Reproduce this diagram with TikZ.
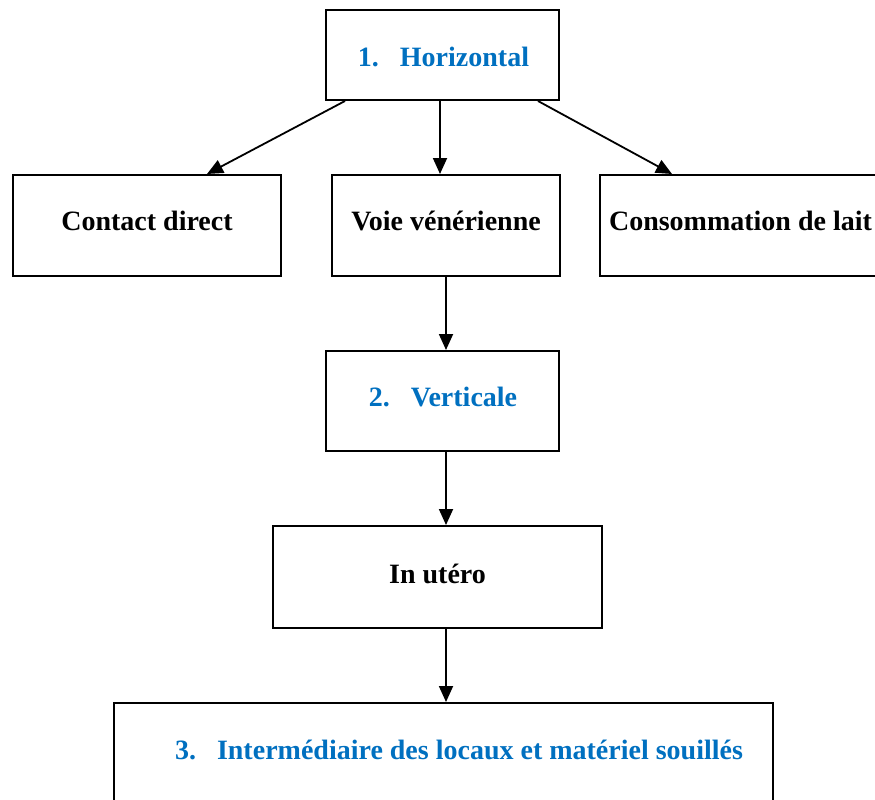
\documentclass[tikz,border=0pt]{standalone}
\usepackage{fontspec}
\setmainfont{Liberation Serif}
\usetikzlibrary{arrows.meta}
\definecolor{wordblue}{RGB}{0,112,192}
\tikzset{
  box/.style={draw=black, line width=2pt, rectangle, inner sep=0pt},
  lbl/.style={inner sep=0pt, font=\fontsize{28}{32}\selectfont\bfseries},
  bluelbl/.style={lbl, text=wordblue},
  arr/.style={line width=1.8pt, -{Triangle[length=16pt,width=14pt]}}
}
\begin{document}
\begin{tikzpicture}[x=1pt,y=-1pt]
\useasboundingbox (0,0) rectangle (875,800);
\clip (0,0) rectangle (875,800);
\fill[white] (0,0) rectangle (875,800);
\node[box, minimum width=233pt, minimum height=90pt] (h) at (442.5,55) {};
\node[box, minimum width=268pt, minimum height=101pt] (cd) at (147,225.5) {};
\node[box, minimum width=228pt, minimum height=101pt] (vv) at (446,225.5) {};
\node[box, minimum width=281pt, minimum height=101pt] (cl) at (740.5,225.5) {};
\node[box, minimum width=233pt, minimum height=100pt] (ve) at (442.5,401) {};
\node[box, minimum width=329pt, minimum height=102pt] (iu) at (437.5,577) {};
\node[box, minimum width=659pt, minimum height=100pt] (bt) at (443.5,753) {};

\node[bluelbl] (th) at (443.5,57) {1.\hspace{21pt}Horizontal};
\node[lbl] (tcd) at (147,221) {Contact direct};
\node[lbl] (tvv) at (446,221) {Voie vénérienne};
\node[lbl] (tcl) at (740.5,221) {Consommation de lait};
\node[bluelbl] (tve) at (443,397) {2.\hspace{21pt}Verticale};
\node[lbl] (tiu) at (437.5,574) {In utéro};
\node[bluelbl] (tbt) at (459,750) {3.\hspace{21pt}Intermédiaire des locaux et matériel souillés};

\draw[arr] (h.south -| 345,0) -- (cd.north -| 207,0);
\draw[arr] (h.south -| 440,0) -- (vv.north -| 440,0);
\draw[arr] (h.south -| 538,0) -- (cl.north -| 672,0);
\draw[arr] (vv.south -| 446,0) -- (ve.north -| 446,0);
\draw[arr] (ve.south -| 446,0) -- (iu.north -| 446,0);
\draw[arr] (iu.south -| 446,0) -- (bt.north -| 446,0);
\end{tikzpicture}
\end{document}
